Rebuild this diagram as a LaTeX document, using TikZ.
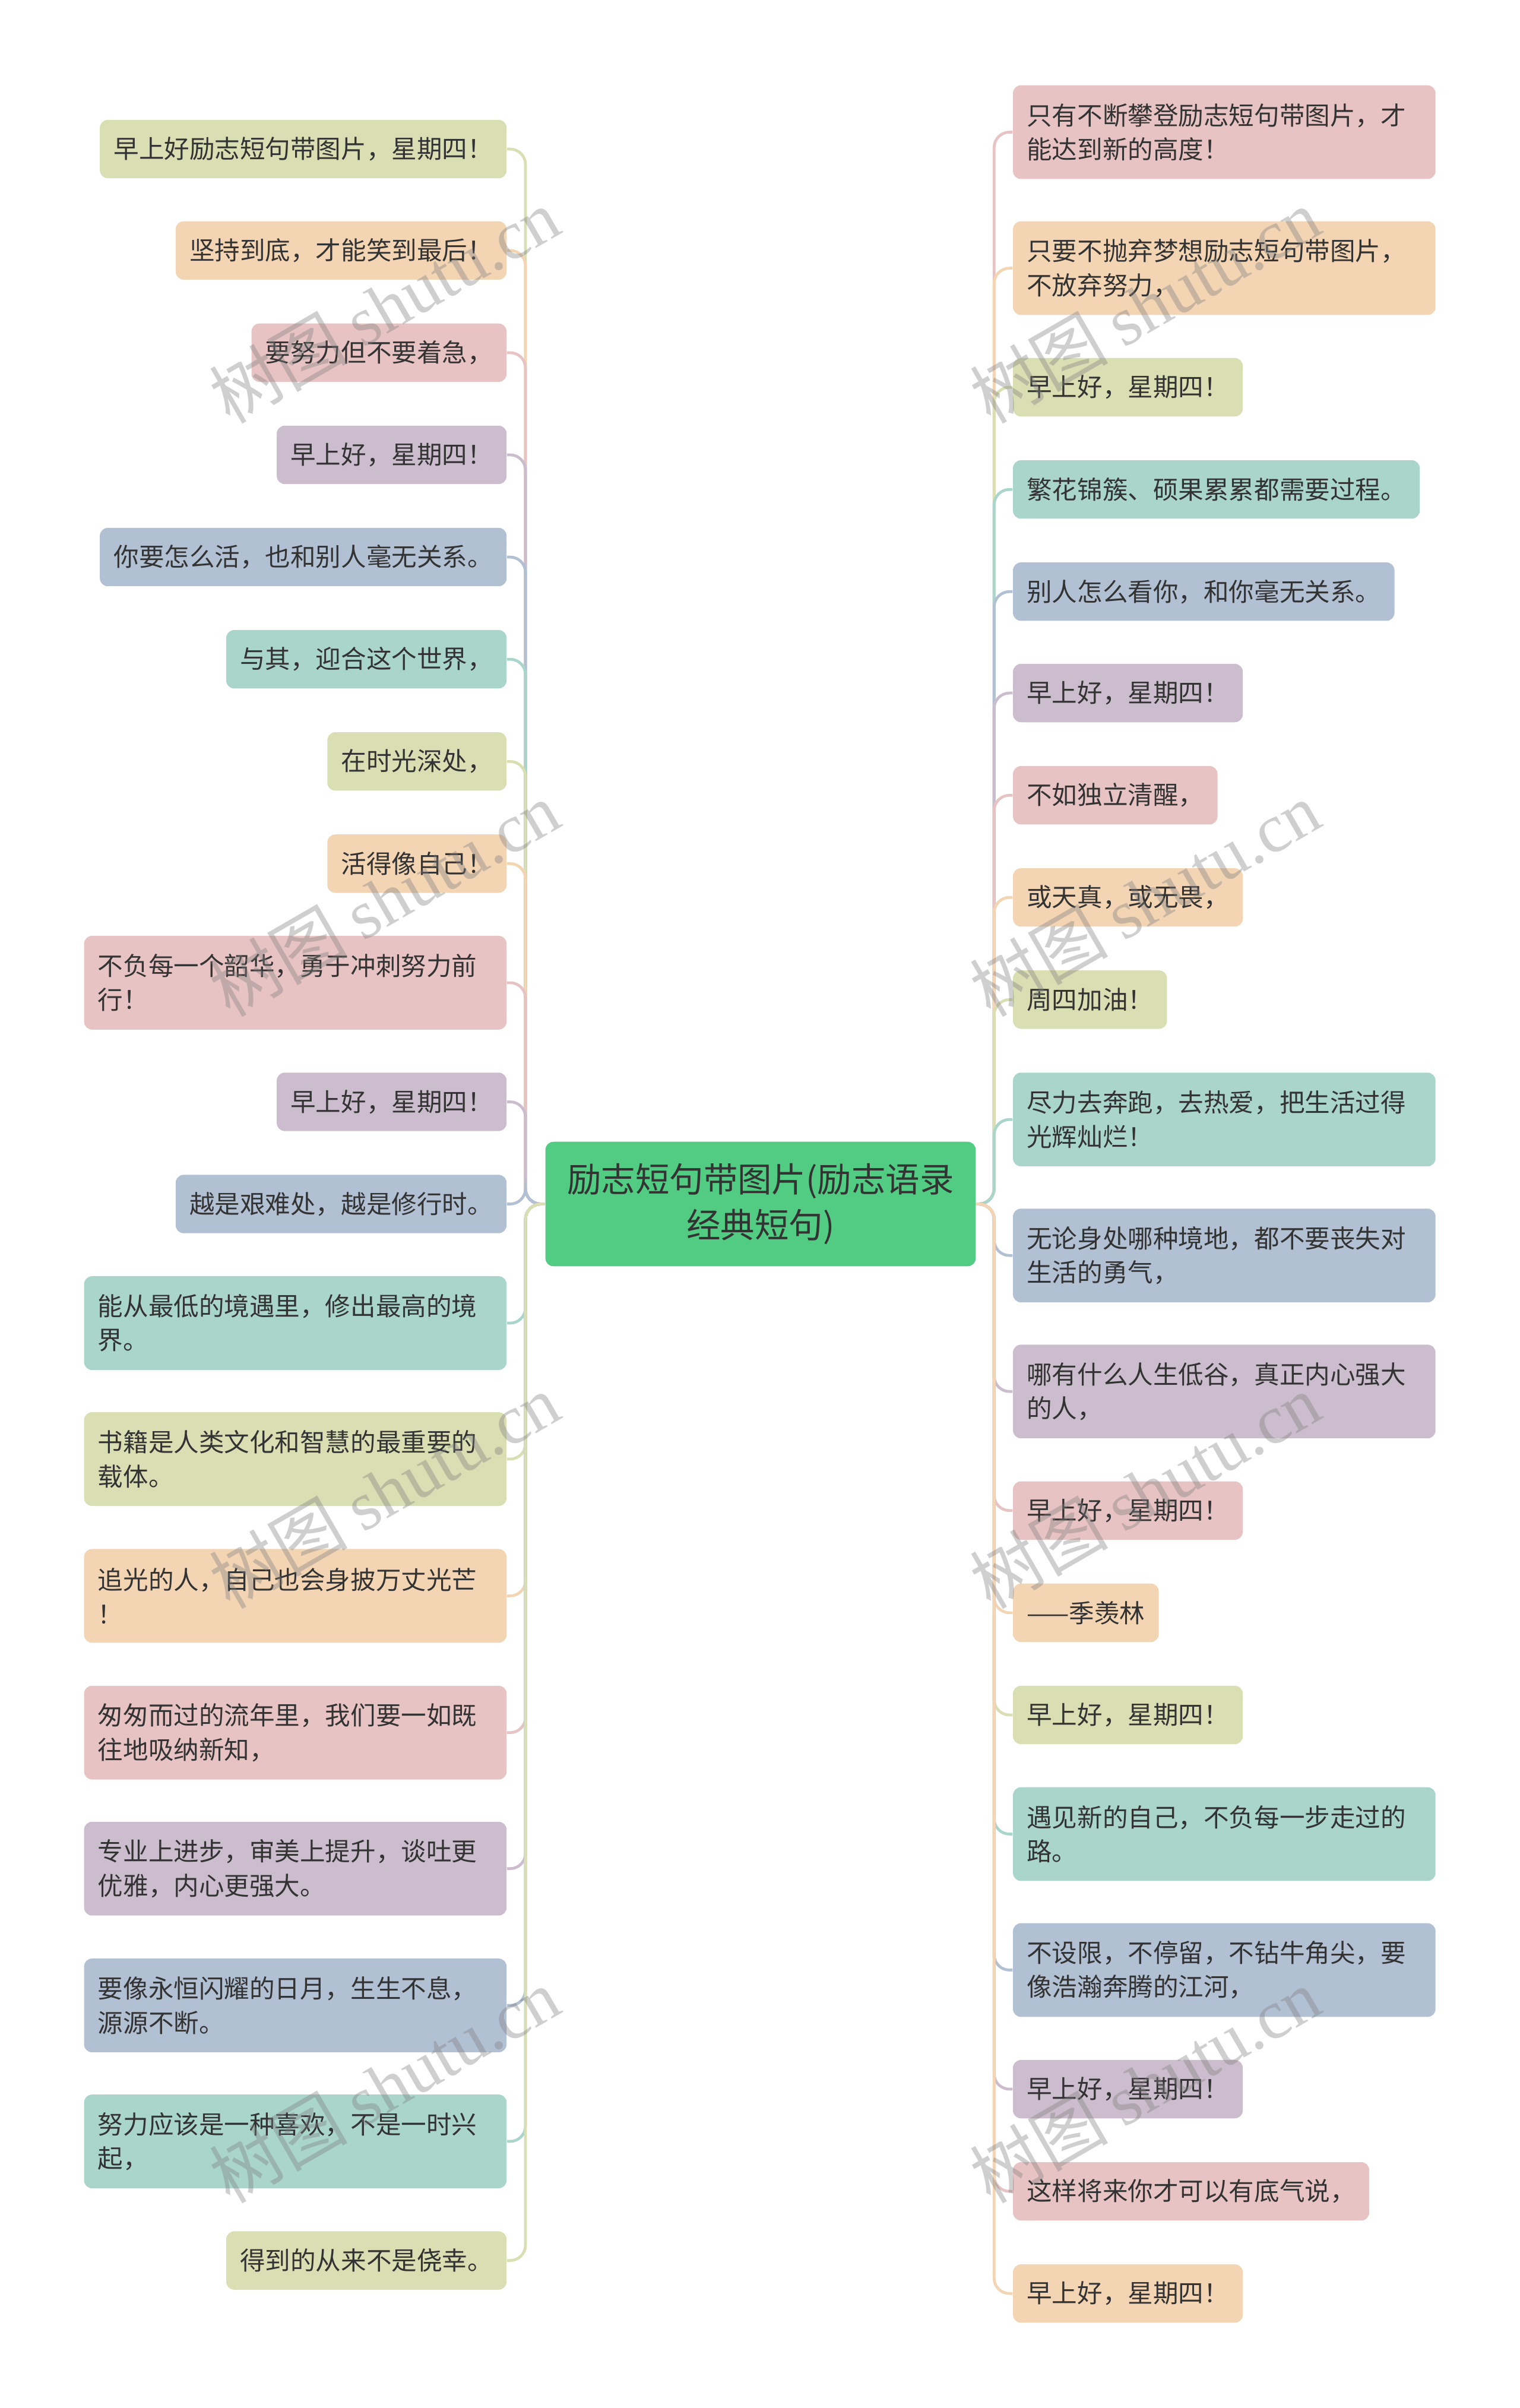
\documentclass[tikz,border=0pt]{standalone}
\usepackage{fontspec}
\setmainfont{Noto Sans CJK SC}
\newfontfamily\wmfont{Liberation Serif}

\definecolor{cYg}{HTML}{D9DEB3}
\definecolor{cOr}{HTML}{F3D5B4}
\definecolor{cPk}{HTML}{E8C3C3}
\definecolor{cPu}{HTML}{CBBDCD}
\definecolor{cBl}{HTML}{B1C0D3}
\definecolor{cTe}{HTML}{A9D5CB}
\definecolor{cRoot}{HTML}{52CC82}
\definecolor{txt}{HTML}{333333}

\tikzset{
	leaf/.style={fill=#1, rounded corners=1.3mm, text=txt, inner xsep=2.25mm, inner ysep=1mm,
		minimum height=9.5mm, font=\fontsize{11.7}{15.8}\selectfont},
	longleaf/.style={leaf=#1, text width=64.25mm, align=left, minimum height=15.25mm},
	link/.style={draw=#1, line width=1.3pt, rounded corners=2.5mm},
	wm/.style={rotate=30, text=gray, text opacity=0.38, font=\fontsize{32}{32}\selectfont}
}

\begin{document}
\begin{tikzpicture}[x=0.25mm, y=-0.25mm]
			\useasboundingbox (0, 0) rectangle (989, 1567);
			% centre
			\node[fill=cRoot, rounded corners=1.3mm, text=txt, text width=66mm, align=center,
				minimum width=70mm, minimum height=20.25mm, font=\fontsize{15.8}{21}\selectfont]
				(title) at (495, 783.5) {励志短句带图片(励志语录\\经典短句)};
			\coordinate (lspine) at (342, 783.5);
			\coordinate (rspine) at (647, 783.5);
			% left side
			\node[leaf=cYg, anchor=east] (L1) at (330, 97) {早上好励志短句带图片，星期四！};
			\node[leaf=cOr, anchor=east] (L2) at (330, 163) {坚持到底，才能笑到最后！};
			\node[leaf=cPk, anchor=east] (L3) at (330, 229.5) {要努力但不要着急，};
			\node[leaf=cPu, anchor=east] (L4) at (330, 296) {早上好，星期四！};
			\node[leaf=cBl, anchor=east] (L5) at (330, 362.5) {你要怎么活，也和别人毫无关系。};
			\node[leaf=cTe, anchor=east] (L6) at (330, 429) {与其，迎合这个世界，};
			\node[leaf=cYg, anchor=east] (L7) at (330, 495.5) {在时光深处，};
			\node[leaf=cOr, anchor=east] (L8) at (330, 562) {活得像自己！};
			\node[longleaf=cPk, anchor=east] (L9) at (330, 639.5) {不负每一个韶华，勇于冲刺努力前\\行！};
			\node[leaf=cPu, anchor=east] (L10) at (330, 717) {早上好，星期四！};
			\node[leaf=cBl, anchor=east] (L11) at (330, 783.5) {越是艰难处，越是修行时。};
			\node[longleaf=cTe, anchor=east] (L12) at (330, 861) {能从最低的境遇里，修出最高的境\\界。};
			\node[longleaf=cYg, anchor=east] (L13) at (330, 949.5) {书籍是人类文化和智慧的最重要的\\载体。};
			\node[longleaf=cOr, anchor=east] (L14) at (330, 1038.5) {追光的人，自己也会身披万丈光芒\\！};
			\node[longleaf=cPk, anchor=east] (L15) at (330, 1127.5) {匆匆而过的流年里，我们要一如既\\往地吸纳新知，};
			\node[longleaf=cPu, anchor=east] (L16) at (330, 1216) {专业上进步，审美上提升，谈吐更\\优雅，内心更强大。};
			\node[longleaf=cBl, anchor=east] (L17) at (330, 1305) {要像永恒闪耀的日月，生生不息，\\源源不断。};
			\node[longleaf=cTe, anchor=east] (L18) at (330, 1393.5) {努力应该是一种喜欢，不是一时兴\\起，};
			\node[leaf=cYg, anchor=east] (L19) at (330, 1471) {得到的从来不是侥幸。};
			% right side
			\node[longleaf=cPk, anchor=west] (R1) at (659, 86) {只有不断攀登励志短句带图片，才\\能达到新的高度！};
			\node[longleaf=cOr, anchor=west] (R2) at (659, 174.5) {只要不抛弃梦想励志短句带图片，\\不放弃努力，};
			\node[leaf=cYg, anchor=west] (R3) at (659, 252) {早上好，星期四！};
			\node[leaf=cTe, anchor=west] (R4) at (659, 318.5) {繁花锦簇、硕果累累都需要过程。};
			\node[leaf=cBl, anchor=west] (R5) at (659, 385) {别人怎么看你，和你毫无关系。};
			\node[leaf=cPu, anchor=west] (R6) at (659, 451) {早上好，星期四！};
			\node[leaf=cPk, anchor=west] (R7) at (659, 517.5) {不如独立清醒，};
			\node[leaf=cOr, anchor=west] (R8) at (659, 584) {或天真，或无畏，};
			\node[leaf=cYg, anchor=west] (R9) at (659, 650.5) {周四加油！};
			\node[longleaf=cTe, anchor=west] (R10) at (659, 728.5) {尽力去奔跑，去热爱，把生活过得\\光辉灿烂！};
			\node[longleaf=cBl, anchor=west] (R11) at (659, 817) {无论身处哪种境地，都不要丧失对\\生活的勇气，};
			\node[longleaf=cPu, anchor=west] (R12) at (659, 905.5) {哪有什么人生低谷，真正内心强大\\的人，};
			\node[leaf=cPk, anchor=west] (R13) at (659, 983) {早上好，星期四！};
			\node[leaf=cOr, anchor=west] (R14) at (659, 1049.5) {——季羡林};
			\node[leaf=cYg, anchor=west] (R15) at (659, 1116) {早上好，星期四！};
			\node[longleaf=cTe, anchor=west] (R16) at (659, 1193.5) {遇见新的自己，不负每一步走过的\\路。};
			\node[longleaf=cBl, anchor=west] (R17) at (659, 1282) {不设限，不停留，不钻牛角尖，要\\像浩瀚奔腾的江河，};
			\node[leaf=cPu, anchor=west] (R18) at (659, 1359.5) {早上好，星期四！};
			\node[leaf=cPk, anchor=west] (R19) at (659, 1426) {这样将来你才可以有底气说，};
			\node[leaf=cOr, anchor=west] (R20) at (659, 1492.5) {早上好，星期四！};
			% connectors
			\foreach \i/\c in {1/cYg, 2/cOr, 3/cPk, 4/cPu, 5/cBl, 6/cTe, 7/cYg, 8/cOr, 9/cPk, 10/cPu,
				11/cBl, 12/cTe, 13/cYg, 14/cOr, 15/cPk, 16/cPu, 17/cBl, 18/cTe, 19/cYg}
				\draw[link=\c] (title.west) -- (lspine) |- (L\i.east);
			\foreach \i/\c in {1/cPk, 2/cOr, 3/cYg, 4/cTe, 5/cBl, 6/cPu, 7/cPk, 8/cOr, 9/cYg, 10/cTe,
				11/cBl, 12/cPu, 13/cPk, 14/cOr, 15/cYg, 16/cTe, 17/cBl, 18/cPu, 19/cPk, 20/cOr}
				\draw[link=\c] (title.east) -- (rspine) |- (R\i.west);
			% watermarks
			\foreach \x in {250, 745}
				\foreach \y in {199, 585, 970, 1357}
					\node[wm] (wm-\x-\y) at (\x, \y) {树图 {\wmfont shutu.cn}};
		\end{tikzpicture}
\end{document}
